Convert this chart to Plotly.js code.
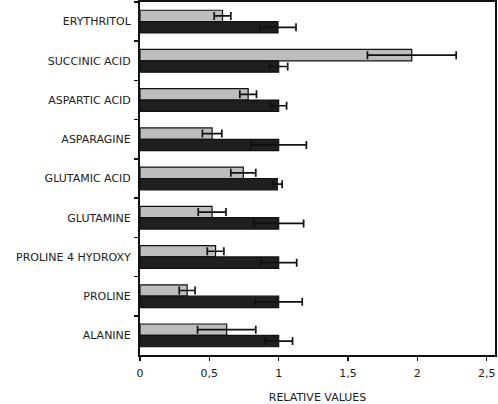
<!DOCTYPE html>
<html>
<head>
<meta charset="utf-8">
<script src="https://cdn.plot.ly/plotly-3.0.1.min.js"></script>
<style>html,body{margin:0;padding:0;background:#fff;}#chart{width:498px;height:404px;}</style>
</head>
<body>
<div id="chart"></div>
<script>
var categories = ["ERYTHRITOL", "SUCCINIC ACID", "ASPARTIC ACID", "ASPARAGINE", "GLUTAMIC ACID", "GLUTAMINE", "PROLINE 4 HYDROXY", "PROLINE", "ALANINE"];
var grayValues = [0.595, 1.96, 0.78, 0.52, 0.745, 0.52, 0.545, 0.34, 0.625];
var grayErrors = [0.06, 0.32, 0.06, 0.07, 0.09, 0.10, 0.06, 0.057, 0.21];
var darkValues = [0.995, 1.0, 1.0, 1.0, 0.99, 1.0, 1.0, 1.0, 1.0];
var darkErrors = [0.13, 0.065, 0.057, 0.20, 0.035, 0.18, 0.13, 0.17, 0.10];
var xTicks = [0, 0.5, 1, 1.5, 2, 2.5];

var traces = [
  {
    type: "bar", orientation: "h", y: categories, x: grayValues,
    marker: {color: "#bdbdbd", line: {color: "#111", width: 1.2}},
    error_x: {type: "data", array: grayErrors, visible: true, color: "#111", thickness: 1.7, width: 4}
  },
  {
    type: "bar", orientation: "h", y: categories, x: darkValues,
    marker: {color: "#1f1f1f", line: {color: "#111", width: 1.2}},
    error_x: {type: "data", array: darkErrors, visible: true, color: "#111", thickness: 1.7, width: 4}
  }
];

var layout = {
  width: 498, height: 404,
  margin: {l: 140, r: 3, t: 2, b: 49},
  paper_bgcolor: "#fff", plot_bgcolor: "#fff",
  separators: ", ",
  showlegend: false,
  barmode: "group", bargap: 0.42, bargroupgap: 0,
  font: {family: "DejaVu Sans, Verdana, sans-serif", size: 11, color: "#222"},
  xaxis: {
    range: [0, 2.56], tickvals: xTicks, ticks: "outside", ticklen: 4, tickwidth: 1.5, tickcolor: "#111",
    ticklabelstandoff: 3,
    showline: true, linecolor: "#111", linewidth: 2, mirror: true, showgrid: false, zeroline: false,
    tickfont: {size: 11},
    title: {text: "RELATIVE VALUES", font: {size: 11}, standoff: 16}
  },
  yaxis: {
    type: "category", categoryorder: "array", categoryarray: categories, autorange: "reversed",
    ticks: "outside", tickson: "boundaries", ticklen: 4, tickwidth: 1.5, tickcolor: "#111",
    ticklabelstandoff: 5,
    showline: true, linecolor: "#111", linewidth: 2, mirror: true, showgrid: false, zeroline: false,
    tickfont: {size: 11}
  }
};

Plotly.newPlot("chart", traces, layout, {displayModeBar: false, staticPlot: true});
</script>
</body>
</html>
